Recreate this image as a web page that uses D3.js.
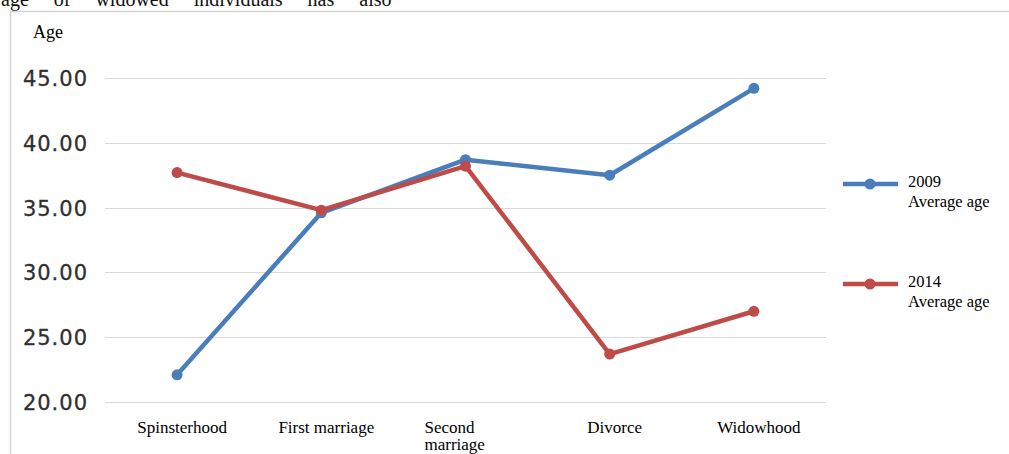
<!DOCTYPE html>
<html>
<head>
<meta charset="utf-8">
<script src="https://cdn.jsdelivr.net/npm/d3@7"></script>
<style>
  html, body { margin: 0; padding: 0; background: #fff; }
  svg { display: block; }
</style>
</head>
<body>
<svg id="chart" width="1009" height="454"></svg>
<script>
// Average age by marital status, 2009 vs 2014
const categories = ["Spinsterhood", "First marriage", "Second marriage", "Divorce", "Widowhood"];
const seriesNames = ["2009", "2014"];
const values2009 = [22.1, 34.6, 38.7, 37.5, 44.2];
const values2014 = [37.7, 34.8, 38.2, 23.7, 27.0];
const yTicks = [20, 25, 30, 35, 40, 45];
const seriesColors = ["#4a7ebb", "#be4b48"];

const svg = d3.select("#chart");
const W = 1009, H = 454;

// Fragment of the running text above the figure
svg.append("text")
  .attr("x", 1).attr("y", 6)
  .attr("font-family", "'Liberation Serif', 'Times New Roman', serif")
  .attr("font-size", 20)
  .attr("word-spacing", 20)
  .attr("fill", "#111")
  .text("age of widowed individuals has also");

// Figure frame
svg.append("path")
  .attr("d", `M10.5,${H} V11.5 H${W}`)
  .attr("fill", "none")
  .attr("stroke", "#d4d4d4")
  .attr("stroke-width", 1.5);

const plot = { left: 105, right: 826, top: 78, bottom: 402 };

const x = d3.scaleBand()
  .domain(categories)
  .range([plot.left, plot.right]);

const y = d3.scaleLinear()
  .domain([20, 45])
  .range([plot.bottom, plot.top]);

// Horizontal gridlines
svg.append("g")
  .selectAll("line")
  .data(yTicks)
  .join("line")
  .attr("x1", plot.left).attr("x2", plot.right)
  .attr("y1", d => Math.round(y(d)) + 0.5)
  .attr("y2", d => Math.round(y(d)) + 0.5)
  .attr("stroke", "#d9d9d9")
  .attr("stroke-width", 1);

// Y axis labels
const yAxis = d3.axisLeft(y)
  .tickValues(yTicks)
  .tickFormat(d3.format(".2f"))
  .tickSize(0)
  .tickPadding(0);

const yg = svg.append("g")
  .attr("transform", "translate(88,0)")
  .call(yAxis);
yg.select(".domain").remove();
yg.selectAll("text")
  .attr("font-family", "'DejaVu Sans', Verdana, sans-serif")
  .attr("font-size", 21)
  .attr("letter-spacing", 1)
  .attr("fill", "#2f2f2f")
  .attr("stroke", "#2f2f2f")
  .attr("stroke-width", 0.3)
  .attr("dy", "0.36em");

// Axis title
svg.append("text")
  .attr("x", 33).attr("y", 38)
  .attr("font-family", "'Liberation Serif', 'Times New Roman', serif")
  .attr("font-size", 18)
  .attr("fill", "#000")
  .text("Age");

// Category labels (second one wraps onto two lines)
const catG = svg.append("g");
categories.forEach(c => {
  const cx = x(c) + x.bandwidth() / 2;
  const words = c === "Second marriage" ? ["Second", "marriage"] : [c];
  const t = catG.append("text")
    .attr("font-family", "'Liberation Serif', 'Times New Roman', serif")
    .attr("font-size", 17)
    .attr("fill", "#000")
    .attr("text-anchor", words.length > 1 ? "start" : "middle");
  words.forEach((w, i) => {
    t.append("tspan")
      .attr("x", words.length > 1 ? cx - 41 : cx + 5)
      .attr("y", 433 + i * 17)
      .text(w);
  });
});

// Series lines and markers
const series = [values2009, values2014];
const line = d3.line()
  .x((d, i) => x(categories[i]) + x.bandwidth() / 2)
  .y(d => y(d));

series.forEach((vals, s) => {
  const g = svg.append("g");
  g.append("path")
    .datum(vals)
    .attr("d", line)
    .attr("fill", "none")
    .attr("stroke", seriesColors[s])
    .attr("stroke-width", 4.5)
    .attr("stroke-linejoin", "round");
  g.selectAll("circle")
    .data(vals)
    .join("circle")
    .attr("cx", (d, i) => x(categories[i]) + x.bandwidth() / 2)
    .attr("cy", d => y(d))
    .attr("r", 5.5)
    .attr("fill", seriesColors[s]);
});

// Legend
const legendY = [184, 284];
seriesNames.forEach((name, s) => {
  const g = svg.append("g").attr("transform", `translate(0,${legendY[s]})`);
  g.append("line")
    .attr("x1", 843).attr("x2", 898)
    .attr("y1", 0).attr("y2", 0)
    .attr("stroke", seriesColors[s])
    .attr("stroke-width", 4.5);
  g.append("circle")
    .attr("cx", 870).attr("cy", 0).attr("r", 5.5)
    .attr("fill", seriesColors[s]);
  const t = g.append("text")
    .attr("font-family", "'Liberation Serif', 'Times New Roman', serif")
    .attr("font-size", 16.5)
    .attr("fill", "#000");
  t.append("tspan").attr("x", 908).attr("y", 3).text(name);
  t.append("tspan").attr("x", 908).attr("y", 23).text("Average age");
});
</script>
</body>
</html>
